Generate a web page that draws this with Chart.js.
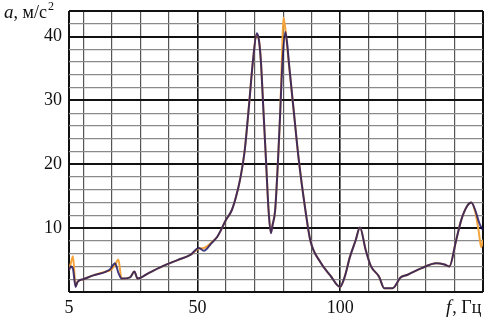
<!DOCTYPE html>
<html>
<head>
<meta charset="utf-8">
<script src="https://cdn.jsdelivr.net/npm/chart.js@4/dist/chart.umd.min.js"></script>
<style>
  html, body { margin: 0; padding: 0; background: #fff; }
  #wrap { width: 493px; height: 321px; }
</style>
</head>
<body>
<div id="wrap"><canvas id="accChart"></canvas></div>
<script>
// blue series: frequency (Hz) and acceleration (m/s^2)
const freqBlue = [5, 5.6, 6.4, 7.3, 8, 10, 13.5, 18, 19.5, 21.1, 22.3, 23.4, 26.4, 27.9, 29, 33, 38, 43, 47.5, 50.5, 52.2, 55, 57, 60, 62, 63.5, 65, 66.5, 68, 69.5, 70.8, 71.5, 72.2, 73.1, 74, 74.9, 75.7, 76.3, 77.2, 78.2, 79, 79.8, 80.8, 81.5, 82, 83.7, 85.5, 87.8, 89.5, 93, 96.5, 99.9, 101.5, 103.4, 105.4, 106.9, 108.9, 110.7, 113.6, 115.4, 118.3, 121.2, 123.6, 128.3, 133.6, 136.5, 138.2, 140.6, 142.4, 144.5, 145.9, 147.3, 148.7, 150];
const accBlue  = [3.4, 4.0, 3.6, 0.8, 1.6, 2.0, 2.6, 3.2, 3.6, 4.5, 3.0, 2.1, 2.3, 3.2, 2.1, 3.0, 4.1, 5.0, 5.8, 6.9, 6.45, 7.7, 8.7, 11.3, 12.8, 14.9, 17.8, 22, 29, 36.5, 40.5, 39.5, 36.2, 28.4, 20.6, 12.8, 9.2, 10.5, 12.8, 20.6, 28.4, 36.2, 40.7, 38.5, 36, 28.4, 20.6, 12.8, 8.1, 4.7, 2.6, 0.8, 2.3, 5.5, 8.1, 10.1, 6.6, 4.1, 2.4, 0.6, 0.6, 2.3, 2.7, 3.7, 4.5, 4.3, 4.0, 8.1, 11.3, 13.5, 14.0, 12.8, 10.8, 9.7];

// orange series
const freqOrange = [5, 5.7, 6.4, 7.3, 8, 10, 13.5, 18, 19.5, 21.1, 22.3, 23.4, 26.4, 27.9, 29, 33, 38, 43, 47.5, 50.5, 52.2, 55, 57, 60, 62, 63.5, 65, 66.5, 68, 69.5, 70.6, 71.5, 72.2, 73.1, 74, 74.9, 75.7, 76.3, 77.2, 78.2, 79, 79.6, 80.1, 80.7, 81.9, 83.7, 85.5, 87.8, 89.5, 93, 96.5, 99.9, 101.5, 103.4, 105.4, 106.9, 108.9, 110.7, 113.6, 115.4, 118.3, 121.2, 123.6, 128.3, 133.6, 136.5, 138.2, 140.6, 142.4, 144.5, 145.9, 147.3, 148.5, 149.4, 150];
const accOrange  = [3.4, 4.6, 5.6, 0.9, 1.6, 2.0, 2.6, 3.2, 3.4, 4.2, 5.1, 2.1, 2.3, 3.2, 2.1, 3.0, 4.1, 5.0, 5.8, 6.8, 6.9, 7.8, 8.7, 11.3, 12.8, 14.9, 17.8, 22, 29, 36.5, 40.3, 39.5, 36.2, 28.4, 20.6, 12.8, 9.3, 10.5, 12.8, 20.6, 28.4, 37, 43.0, 41.5, 36.2, 28.4, 20.6, 12.8, 8.1, 4.7, 2.6, 0.8, 2.3, 5.5, 8.1, 10.1, 6.6, 4.1, 2.4, 0.6, 0.6, 2.3, 2.7, 3.7, 4.5, 4.3, 4.0, 8.1, 11.3, 13.5, 14.0, 12.5, 9.5, 7.0, 8.2];

// axis ticks
const xTicks = [5, 10, 20, 30, 40, 50, 60, 70, 80, 90, 100, 110, 120, 130, 140, 150];
const xLabels = [5, 50, 100];
const yLabels = [10, 20, 30, 40];

const toPoints = (xs, ys) => xs.map((x, i) => ({ x: x, y: ys[i] }));

const serif = '"Liberation Serif", "DejaVu Serif", serif';

// axis titles drawn as text
const axisTitles = {
  id: 'axisTitles',
  afterDraw(chart) {
    const c = chart.ctx;
    c.save();
    c.fillStyle = '#111';
    c.textBaseline = 'alphabetic';
    c.textAlign = 'left';
    // a, м/с²
    c.font = 'italic 19px ' + serif;
    c.fillText('a', 4, 18);
    let w = c.measureText('a').width;
    c.font = '18px ' + serif;
    c.fillText(', м/с', 4 + w, 18);
    w += c.measureText(', м/с').width;
    c.font = '12px ' + serif;
    c.fillText('2', 4 + w + 1, 10);
    // f, Гц
    c.font = 'italic 19px ' + serif;
    c.fillText('f', 446, 313);
    let w2 = c.measureText('f').width;
    c.font = '18px ' + serif;
    c.fillText(', Гц', 446 + w2 + 1, 313);
    c.restore();
  }
};

new Chart(document.getElementById('accChart'), {
  type: 'line',
  data: {
    datasets: [
      {
        label: 'blue',
        data: toPoints(freqBlue, accBlue),
        borderColor: 'rgba(24, 14, 96, 0.8)',
        borderWidth: 2,
        pointRadius: 0,
        cubicInterpolationMode: 'monotone',
        order: 1
      },
      {
        label: 'orange',
        data: toPoints(freqOrange, accOrange),
        borderColor: '#f4a43a',
        borderWidth: 2,
        pointRadius: 0,
        cubicInterpolationMode: 'monotone',
        order: 2
      }
    ]
  },
  options: {
    responsive: true,
    maintainAspectRatio: false,
    animation: false,
    layout: { padding: { left: 0, right: 10, top: 11, bottom: 0 } },
    scales: {
      x: {
        type: 'linear',
        min: 5,
        max: 150,
        afterBuildTicks: (scale) => { scale.ticks = xTicks.map(v => ({ value: v })); },
        afterFit: (scale) => { scale.height = 29; scale.paddingLeft = 0; scale.paddingRight = 0; },
        border: { display: false },
        grid: {
          drawTicks: false,
          color: (ctx) => {
            const v = ctx.tick && ctx.tick.value;
            return (v === 5 || v === 150 || v === 50 || v === 100) ? '#111' : '#555';
          },
          lineWidth: (ctx) => {
            const v = ctx.tick && ctx.tick.value;
            if (v === 5 || v === 150) return 2;
            if (v === 50 || v === 100) return 1.6;
            return 1.2;
          }
        },
        ticks: {
          padding: 5,
          autoSkip: false,
          maxRotation: 0,
          color: '#111',
          font: { family: serif, size: 18 },
          callback: (v) => xLabels.includes(v) ? String(v) : ''
        }
      },
      y: {
        min: 0,
        max: 44,
        afterFit: (scale) => { scale.width = 69; scale.paddingTop = 0; scale.paddingBottom = 0; },
        border: { display: false },
        grid: {
          drawTicks: false,
          color: (ctx) => {
            const v = ctx.tick && ctx.tick.value;
            return (v % 10 === 0 || v === 44) ? '#111' : '#8a8a8a';
          },
          lineWidth: (ctx) => {
            const v = ctx.tick && ctx.tick.value;
            return (v % 10 === 0 || v === 44) ? 2 : 1.3;
          }
        },
        ticks: {
          stepSize: 2,
          padding: 7,
          autoSkip: false,
          color: '#111',
          font: { family: serif, size: 18 },
          callback: (v) => yLabels.includes(v) ? String(v) : ''
        }
      }
    },
    plugins: {
      legend: { display: false },
      tooltip: { enabled: false }
    }
  },
  plugins: [axisTitles]
});
</script>
</body>
</html>
